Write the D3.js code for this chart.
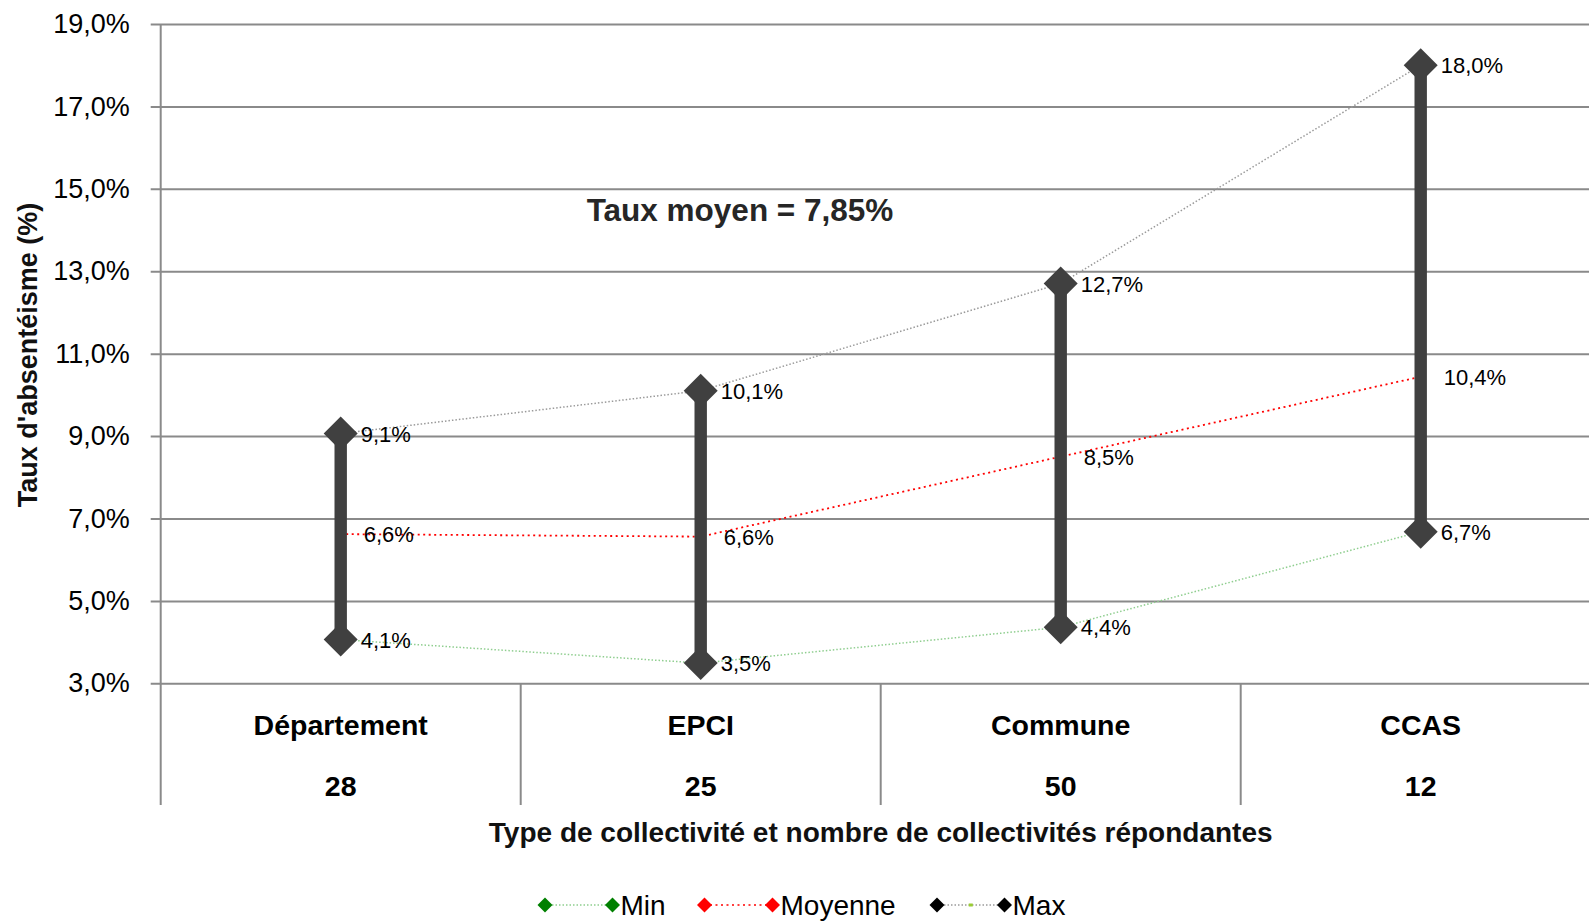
<!DOCTYPE html>
<html>
<head>
<meta charset="utf-8">
<script src="https://cdn.jsdelivr.net/npm/d3@7"></script>
<style>
  html, body { margin: 0; padding: 0; background: #fff; }
  svg { display: block; font-family: "Liberation Sans", Arial, sans-serif; }
</style>
</head>
<body>
<svg id="chart" width="1589" height="924"></svg>
<script>
// ---- Data ----
const categories = ["Département", "EPCI", "Commune", "CCAS"];
const counts = ["28", "25", "50", "12"];
const minValues = [4.06, 3.49, 4.36, 6.68];
const meanValues = [6.62, 6.56, 8.5, 10.44];
const maxValues = [9.06, 10.1, 12.7, 18.0];
const yTicks = [3, 5, 7, 9, 11, 13, 15, 17, 19];
const seriesNames = ["Min", "Moyenne", "Max"];
const titleText = "Taux moyen = 7,85%";
const yAxisTitle = "Taux d'absentéisme (%)";
const xAxisTitle = "Type de collectivité et nombre de collectivités répondantes";

// ---- Layout ----
const W = 1589, H = 924;
const plotLeft = 160.7, plotTop = 24, plotBottom = 683.3;
const catWidth = 360;
const svg = d3.select("#chart");

const x = d3.scaleBand().domain(categories).range([plotLeft, plotLeft + catWidth * categories.length]).padding(0);
const y = d3.scaleLinear().domain([3, 19]).range([plotBottom, plotTop]);
const cx = c => x(c) + x.bandwidth() / 2;
const fmt = v => d3.format(".1f")(v).replace(".", ",") + "%";
const fmtTick = v => d3.format(".1f")(v).replace(".", ",") + "%";
const gridColor = "#8a8a8a";

// ---- Gridlines (y axis) ----
const yAxis = d3.axisLeft(y).tickValues(yTicks).tickSize(0).tickFormat(fmtTick).tickPadding(31);
const gy = svg.append("g").attr("transform", `translate(${plotLeft},0)`).call(yAxis);
gy.select(".domain").remove();
gy.selectAll(".tick text").attr("font-size", 27).attr("fill", "#000")
  .attr("font-family", "'Liberation Sans', Arial, sans-serif");
gy.selectAll(".tick").append("line")
  .attr("x1", -10).attr("x2", W - plotLeft)
  .attr("stroke", gridColor).attr("stroke-width", 2);

// vertical axis line
svg.append("line")
  .attr("x1", plotLeft).attr("x2", plotLeft)
  .attr("y1", plotTop).attr("y2", 805)
  .attr("stroke", gridColor).attr("stroke-width", 2);

// category dividers
svg.selectAll("line.div").data(categories.slice(1)).enter().append("line")
  .attr("class", "div")
  .attr("x1", d => x(d)).attr("x2", d => x(d))
  .attr("y1", plotBottom).attr("y2", 805)
  .attr("stroke", gridColor).attr("stroke-width", 2);

// category labels
svg.selectAll("text.cat").data(categories).enter().append("text")
  .attr("class", "cat")
  .attr("x", d => cx(d)).attr("y", 735)
  .attr("text-anchor", "middle").attr("font-size", 28.5).attr("font-weight", "bold")
  .text(d => d);
svg.selectAll("text.cnt").data(categories).enter().append("text")
  .attr("class", "cnt")
  .attr("x", d => cx(d)).attr("y", 796)
  .attr("text-anchor", "middle").attr("font-size", 28.5).attr("font-weight", "bold")
  .text((d, i) => counts[i]);

// axis titles
svg.append("text")
  .attr("x", 880.7).attr("y", 842)
  .attr("text-anchor", "middle").attr("font-size", 28).attr("font-weight", "bold")
  .attr("fill", "#111")
  .text(xAxisTitle);
svg.append("text")
  .attr("transform", "translate(37,355) rotate(-90)")
  .attr("text-anchor", "middle").attr("font-size", 27).attr("font-weight", "bold")
  .attr("fill", "#111")
  .text(yAxisTitle);

// chart annotation
svg.append("text")
  .attr("x", 740).attr("y", 221)
  .attr("text-anchor", "middle").attr("font-size", 31.5).attr("font-weight", "bold")
  .attr("fill", "#262626")
  .text(titleText);

// ---- Series lines ----
const line = d3.line().x(d => d[0]).y(d => d[1]).curve(d3.curveLinear);
const seriesDefs = [
  { vals: minValues, color: "#8fce8f", dash: "1.5,2", width: 1.5 },
  { vals: meanValues, color: "#ff0000", dash: "2,3.5", width: 1.8 },
  { vals: maxValues, color: "#9a9a9a", dash: "1.5,2", width: 1.5 }
];
seriesDefs.forEach(s => {
  svg.append("path")
    .attr("d", line(categories.map((c, i) => [cx(c), y(s.vals[i])])))
    .attr("fill", "none").attr("stroke", s.color)
    .attr("stroke-width", s.width).attr("stroke-dasharray", s.dash);
});

// ---- High-low bars ----
const barColor = "#404040";
svg.selectAll("rect.hl").data(categories).enter().append("rect")
  .attr("class", "hl")
  .attr("x", d => cx(d) - 6.2)
  .attr("y", (d, i) => y(maxValues[i]))
  .attr("width", 12.4)
  .attr("height", (d, i) => y(minValues[i]) - y(maxValues[i]))
  .attr("fill", barColor);

// diamonds for min & max
const diamond = (px, py, r) => `M${px},${py - r}L${px + r},${py}L${px},${py + r}L${px - r},${py}Z`;
[minValues, maxValues].forEach(vals => {
  svg.selectAll(null).data(categories).enter().append("path")
    .attr("d", (d, i) => diamond(cx(d), y(vals[i]), 17))
    .attr("fill", barColor);
});

// ---- Data labels ----
const labelDefs = [
  { vals: maxValues, dx: 20 },
  { vals: meanValues, dx: 23 },
  { vals: minValues, dx: 20 }
];
labelDefs.forEach(l => {
  svg.selectAll(null).data(categories).enter().append("text")
    .attr("x", d => cx(d) + l.dx)
    .attr("y", (d, i) => y(l.vals[i]))
    .attr("dy", "0.36em")
    .attr("font-size", 22).attr("fill", "#000")
    .text((d, i) => fmt(l.vals[i]));
});

// ---- Legend ----
const legendItems = [
  { name: seriesNames[0], x1: 545, x2: 612.5, color: "#008000", line: "#8fce8f", dash: "1.5,2" },
  { name: seriesNames[1], x1: 704.5, x2: 772.5, color: "#ff0000", line: "#ff0000", dash: "2,3.5" },
  { name: seriesNames[2], x1: 937, x2: 1004.5, color: "#000000", line: "#9a9a9a", dash: "1.5,2" }
];
const ly = 905;
const lg = svg.append("g");
legendItems.forEach((it, i) => {
  lg.append("line").attr("x1", it.x1).attr("x2", it.x2).attr("y1", ly).attr("y2", ly)
    .attr("stroke", it.line).attr("stroke-width", 1.5).attr("stroke-dasharray", it.dash);
  if (i === 2) {
    lg.append("rect").attr("x", (it.x1 + it.x2) / 2 - 2).attr("y", ly - 1.5)
      .attr("width", 4).attr("height", 3).attr("fill", "#9acd32");
  }
  lg.append("path").attr("d", diamond(it.x1, ly, 7.5)).attr("fill", it.color);
  lg.append("path").attr("d", diamond(it.x2, ly, 7.5)).attr("fill", it.color);
  lg.append("text").attr("x", it.x2 + 8).attr("y", ly).attr("dy", "0.36em")
    .attr("font-size", 28).attr("fill", "#000").text(it.name);
});
</script>
</body>
</html>
